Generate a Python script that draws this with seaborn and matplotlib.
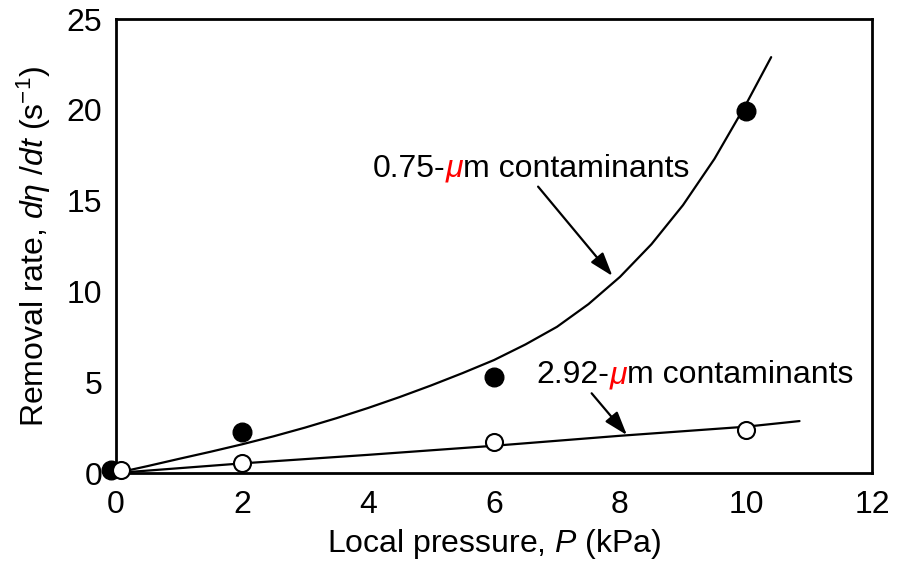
import matplotlib
matplotlib.use("Agg")
import matplotlib.pyplot as plt
import seaborn as sns

small_x = [-0.08, 2, 6, 10]          # 0.75-um contaminants, filled
small_y = [0.15, 2.27, 5.27, 19.93]
large_x = [0.08, 2, 6, 10]           # 2.92-um contaminants, open
large_y = [0.17, 0.53, 1.69, 2.37]

# fitted curves
small_fit_x = [0, 0.5, 1, 1.5, 2, 2.5, 3, 3.5, 4, 4.5, 5, 5.5, 6, 6.5, 7,
               7.5, 8, 8.5, 9, 9.5, 10, 10.4]
small_fit_y = [0, 0.38, 0.78, 1.17, 1.58, 2.02, 2.5, 3.02, 3.58, 4.18, 4.82,
               5.5, 6.22, 7.08, 8.05, 9.3, 10.8, 12.6, 14.75, 17.3, 20.3, 22.9]
large_fit_x = [0, 2, 4, 6, 8, 10, 10.85]
large_fit_y = [0, 0.53, 1.0, 1.5, 2.05, 2.55, 2.86]

x_ticks = [0, 2, 4, 6, 8, 10, 12]
y_ticks = [0, 5, 10, 15, 20, 25]

sns.set_style("white")
plt.rcParams["font.family"] = ["Liberation Sans", "DejaVu Sans"]
plt.rcParams["mathtext.fontset"] = "custom"
plt.rcParams["mathtext.rm"] = "Liberation Sans"
plt.rcParams["mathtext.it"] = "Liberation Sans:italic"
plt.rcParams["mathtext.bf"] = "Liberation Sans:bold"
plt.rcParams["text.color"] = "black"
plt.rcParams["axes.labelcolor"] = "black"
fs = 23

fig = plt.figure(figsize=(8.98, 5.69), dpi=100)
ax = fig.add_axes([0.1292, 0.1687, 0.971 - 0.1292, 0.9666 - 0.1687])

sns.lineplot(x=small_fit_x, y=small_fit_y, color="black", lw=1.6,
             estimator=None, sort=False, solid_joinstyle="round", ax=ax)
sns.lineplot(x=large_fit_x, y=large_fit_y, color="black", lw=1.6,
             estimator=None, sort=False, solid_joinstyle="round", ax=ax)
sns.scatterplot(x=small_x, y=small_y, color="black", s=180, edgecolor="black",
                linewidth=1, clip_on=False, zorder=3, ax=ax)
sns.scatterplot(x=large_x, y=large_y, color="white", s=150, edgecolor="black",
                linewidth=1.5, clip_on=False, zorder=4, ax=ax)

ax.set_xlim(0, 12)
ax.set_ylim(0, 25)
ax.set_xticks(x_ticks)
ax.set_yticks(y_ticks)
ax.tick_params(axis="both", direction="in", length=10, width=1.6,
               labelsize=fs, color="black", labelcolor="black")
ax.tick_params(axis="x", pad=12)
ax.tick_params(axis="y", pad=10)
for sp in ax.spines.values():
    sp.set_linewidth(2)
    sp.set_color("black")

ax.set_xlabel("Local pressure, $P$ (kPa)", fontsize=fs, labelpad=5)
ax.set_ylabel(r"Removal rate, $d\eta$ /$dt$ (s$^{-1}$)", fontsize=fs, labelpad=10)


def label(x, y, head):
    t1 = ax.text(x, y, head, fontsize=fs, va="baseline", ha="left")
    t2 = ax.annotate("\u03bc", xy=(1, 0), xycoords=t1, fontsize=fs,
                     va="bottom", ha="left", color="red", style="italic")
    ax.annotate("m contaminants", xy=(1, 0), xycoords=t2, fontsize=fs,
                va="bottom", ha="left")


label(4.08, 16.32, "0.75-")
label(6.68, 4.94, "2.92-")

arrow = dict(arrowstyle="-|>,head_length=0.9,head_width=0.3", color="black",
             lw=1.6, shrinkA=0, shrinkB=0, mutation_scale=16)
ax.annotate("", xy=(7.88, 10.85), xytext=(6.70, 15.77), arrowprops=arrow)
ax.annotate("", xy=(8.11, 2.09), xytext=(7.55, 4.39), arrowprops=arrow)

fig.savefig("out.png", dpi=100)
